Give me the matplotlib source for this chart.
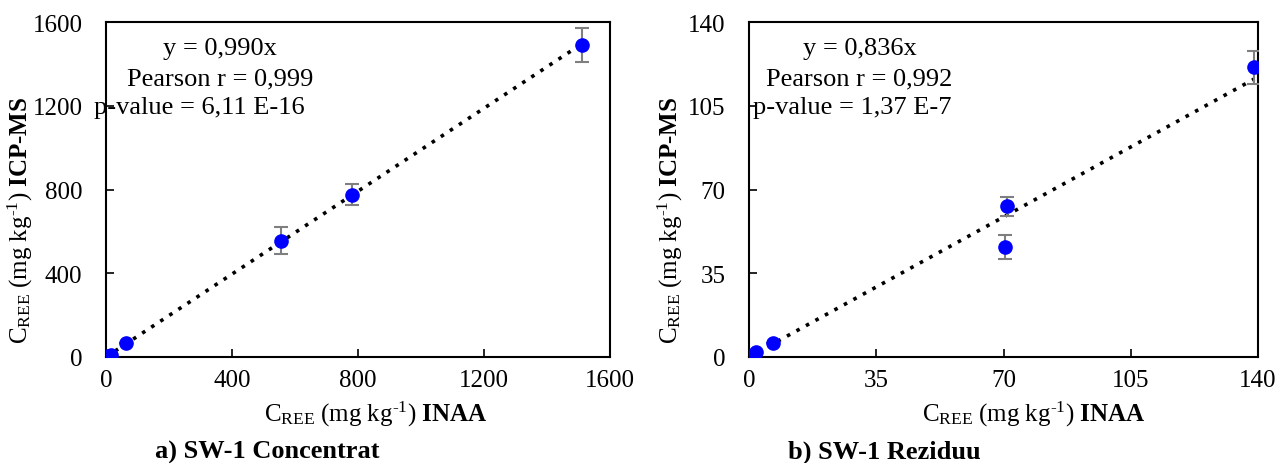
import matplotlib
matplotlib.use('Agg')
import matplotlib.pyplot as plt

plt.rcParams['font.family'] = ['Liberation Serif', 'DejaVu Serif']
plt.rcParams['mathtext.fontset'] = 'custom'
plt.rcParams['mathtext.rm'] = 'Liberation Serif'
plt.rcParams['mathtext.it'] = 'Liberation Serif:italic'
plt.rcParams['mathtext.bf'] = 'Liberation Serif:bold'

# a) SW-1 Concentrat
conc_inaa = [2, 5, 15, 65, 555, 780, 1510]
conc_icp = [2, 5, 10, 65, 555, 775, 1490]
conc_err = [0, 0, 0, 0, 65, 50, 80]
conc_slope = 0.990
conc_ticks = [0, 400, 800, 1200, 1600]
conc_lines = ['y = 0,990x', 'Pearson r = 0,999', 'p-value = 6,11 E-16']

# b) SW-1 Reziduu
rez_inaa = [0.5, 1, 2, 6.5, 70.5, 71, 139]
rez_icp = [0.5, 1, 2, 6, 46, 63, 121]
rez_err = [0, 0, 0, 0, 5, 4, 7]
rez_slope = 0.836
rez_ticks = [0, 35, 70, 105, 140]
rez_lines = ['y = 0,836x', 'Pearson r = 0,992', 'p-value = 1,37 E-7']

W, H = 1281, 464
fig = plt.figure(figsize=(W / 100, H / 100), dpi=100)
ax1 = fig.add_axes([106 / W, 106 / H, 504 / W, 335 / H])
ax2 = fig.add_axes([749 / W, 106 / H, 509 / W, 335 / H])

xlab = r'$\mathrm{C_{REE}\ (mg\ kg^{\text{-1}})}\ \mathbf{INAA}$'
ylab = r'$\mathrm{C_{REE}\ (mg\ kg^{\text{-1}})}\ \mathbf{ICP\text{-}MS}$'

panels = [
    # axis, x, y, err, slope, ticks, stats, stats x-starts, xlabel x, ylabel x, title x, title
    (ax1, conc_inaa, conc_icp, conc_err, conc_slope, conc_ticks, conc_lines,
     [163, 127, 94], 376, 20, 267, 'a) SW-1 Concentrat'),
    (ax2, rez_inaa, rez_icp, rez_err, rez_slope, rez_ticks, rez_lines,
     [803, 766, 753], 1034, 670, 884, 'b) SW-1 Reziduu'),
]

for ax, x, y, err, slope, ticks, lines, starts, xl, yl, tl, title in panels:
    xmax = max(x)
    ax.plot([0, xmax], [0, slope * xmax], ls=(0, (1, 2.0)), color='black', lw=2.6, zorder=2)
    ax.errorbar(x, y, yerr=err, fmt='o', color='#0000ff', ms=9.5,
                ecolor='#7f7f7f', elinewidth=1.5, capsize=5, capthick=1.5, zorder=3)
    ax.set_xlim(ticks[0], ticks[-1])
    ax.set_ylim(ticks[0], ticks[-1])
    ax.set_xticks(ticks)
    ax.set_yticks(ticks)
    ax.tick_params(direction='in', length=6, width=1.2, labelsize=18)
    ax.tick_params(axis='x', pad=9)
    ax.tick_params(axis='y', pad=17)
    for s in ax.spines.values():
        s.set_linewidth(1.5)

    # stats text, one line at a time
    for line, sx, py in zip(lines, starts, [49, 79, 108]):
        fig.text(sx / W, 1 - py / H, line, ha='left', va='center', fontsize=19)

    fig.text(xl / W, 1 - 414 / H, xlab, ha='center', va='center', fontsize=18)
    fig.text(yl / W, 1 - 220 / H, ylab, ha='center', va='center', fontsize=18, rotation=90)
    fig.text(tl / W, 1 - 452 / H, title, ha='center', va='center', fontsize=19, fontweight='bold')

fig.savefig('out.png', dpi=100)
